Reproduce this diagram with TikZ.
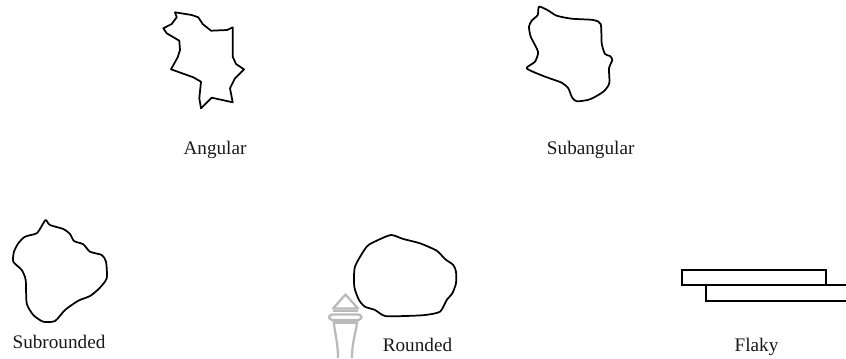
\documentclass[tikz,border=0pt]{standalone}
\usepackage{fontspec}
\setmainfont{Liberation Serif}
\tikzset{
  grain/.style={line width=1.3pt,line join=round},
  flake/.style={line width=1.3pt,line join=miter},
  gradelabel/.style={anchor=base,inner sep=0pt,font=\fontsize{14.4}{17}\selectfont,text=black!90},
  beacon/.style={line width=1.7pt,color=black!27,line join=round}
}
\begin{document}
\begin{tikzpicture}[x=0.75pt,y=0.75pt,yscale=-1]
\useasboundingbox (0,0) rectangle (846,358);

%Shape: Angular grain
\draw [grain] (175,12.3) -- (191.7,15) -- (198.3,17.3) -- (202.7,24) -- (211,30.7) -- (227.3,30) -- (232.7,27.3) -- (232.7,56.7) -- (236,64) -- (244,69.3) -- (235,78.3) -- (230,88.3) -- (232.7,102.3) -- (211.7,97.7) -- (201,108.3) -- (199.3,98.3) -- (201,81.7) -- (193.3,77.3) -- (171,69.3) -- (177.7,57.3) -- (180,50) -- (179.3,40.7) -- (166.7,33.3) -- (163.3,28.3) -- (171.7,24) -- (176.7,17.3) -- cycle ;
%Shape: Subangular grain
\draw [grain] plot [smooth cycle,tension=0.4] coordinates {(539,6.7) (547.3,10) (556.7,15.7) (571.7,18.7) (593.3,20) (600.7,24) (601.7,43.3) (605,54) (610,56) (612.3,60) (609,68.3) (609.3,83.3) (603.3,91.7) (590,99.3) (576.7,101.3) (572,97.3) (568.3,88.3) (561.7,82.7) (543.3,76) (526.7,68.3) (535,61.7) (538,51.7) (530.7,36.7) (529,26.7) (531.7,20.7) (537.7,15)};
%Shape: Subrounded grain
\draw [grain] plot [smooth cycle,tension=0.4] coordinates {(45.7,220) (50,225) (63.3,229) (70,234) (74,241) (83.3,244.3) (90,251.7) (101.7,255) (106,261.7) (106.7,278.3) (99.3,288.3) (90,296) (78.3,300.7) (65,310) (55,321) (43.3,321.7) (33.3,315) (26.7,303.3) (25.7,280) (21.7,270) (13.3,261.7) (14,251.7) (18.3,243.3) (25,236.7) (36.7,233.3) (41.7,226)};
%Shape: Rounded grain
\draw [grain] plot [smooth cycle,tension=0.4] coordinates {(391,235) (403.3,239) (420,243.3) (436.7,250.7) (445,259) (453.3,265) (456,271.7) (456,283.3) (452.3,293.3) (446.7,300) (440,311.7) (425,315) (405,316) (385,316) (375,310) (365,306.7) (359,300) (354.3,286.7) (355,266.7) (366.7,246.7) (376.7,240.7)};

%Shape: Flaky grains, the lower one runs off the right side
\draw [flake] (681.7,270) rectangle (826,285) ;
\draw [flake] (706,285) rectangle (852,300.7) ;

%Shape: Tower outline behind the label
\draw [beacon] (345.5,294.5) -- (333,308.5) -- (358,308.5) -- cycle ;
\draw [beacon] (333,311) -- (358,311) ;
\draw [beacon,rounded corners=2.5] (329,314.5) rectangle (361.5,320) ;
\draw [beacon] (335,322.5) -- (356,322.5) ;
\draw [beacon] (333.5,320) .. controls (334.5,332) and (338,342) .. (338,358) ;
\draw [beacon] (357.5,320) .. controls (356,332) and (352,342) .. (352,358) ;

% Text Node
\node [gradelabel] (angular) at (215,154) {Angular};
% Text Node
\node [gradelabel] (subangular) at (590.7,154.5) {Subangular};
% Text Node
\node [gradelabel] (subrounded) at (59,348) {Subrounded};
% Text Node
\node [gradelabel] (rounded) at (417.5,351.5) {Rounded};
% Text Node
\node [gradelabel] (flaky) at (756.5,351.5) {Flaky};

\end{tikzpicture}
\end{document}
